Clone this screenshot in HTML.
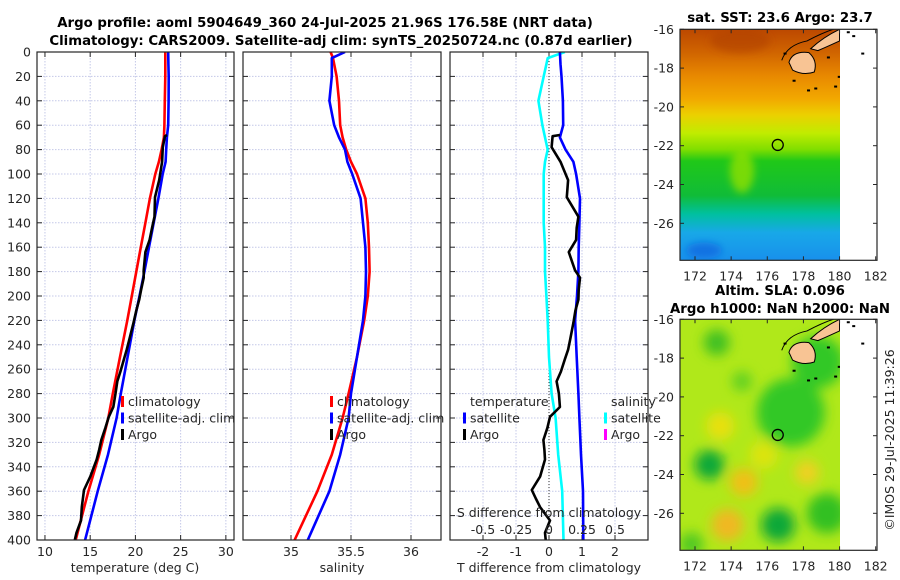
<!DOCTYPE html>
<html><head><meta charset="utf-8">
<style>
body{margin:0;background:#fff;}
svg{display:block;font-family:"DejaVu Sans","Liberation Sans",sans-serif;}
.tk{font-size:12.5px;fill:#262626;}
.ti{font-size:13.3px;font-weight:bold;fill:#000;}
</style></head>
<body>
<svg id="s" width="900" height="580" viewBox="0 0 900 580">
<defs>
<linearGradient id="sstg" x1="0" y1="0" x2="0" y2="1">
<stop offset="0" stop-color="#bc4800"/><stop offset="0.1" stop-color="#d06400"/>
<stop offset="0.2" stop-color="#e88800"/><stop offset="0.3" stop-color="#f2a800"/>
<stop offset="0.37" stop-color="#ecd000"/><stop offset="0.45" stop-color="#c0ec00"/>
<stop offset="0.52" stop-color="#80de00"/><stop offset="0.57" stop-color="#20c818"/>
<stop offset="0.72" stop-color="#10bc38"/><stop offset="0.8" stop-color="#00c0a0"/>
<stop offset="0.88" stop-color="#18a8e8"/><stop offset="1" stop-color="#1890ec"/>
</linearGradient>
<filter id="bl" x="-50%" y="-50%" width="200%" height="200%"><feGaussianBlur stdDeviation="6"/></filter>
<filter id="bl2" x="-50%" y="-50%" width="200%" height="200%"><feGaussianBlur stdDeviation="4"/></filter>
<clipPath id="c1"><rect x="680" y="29" width="160" height="231"/></clipPath>
<clipPath id="c2"><rect x="680" y="319" width="160" height="231"/></clipPath>
<clipPath id="p1"><rect x="37" y="52" width="197" height="488"/></clipPath>
<clipPath id="p2"><rect x="243" y="52" width="198" height="488"/></clipPath>
<clipPath id="p3"><rect x="450" y="52" width="198" height="488"/></clipPath>
</defs>
<text class="ti" x="325" y="27" text-anchor="middle">Argo profile: aoml 5904649_360 24-Jul-2025 21.96S 176.58E (NRT data)</text>
<text class="ti" x="341" y="45" text-anchor="middle">Climatology: CARS2009. Satellite-adj clim: synTS_20250724.nc (0.87d earlier)</text>
<g id="charts"></g>
<g id="maps"></g>
<text class="tk" transform="translate(894,440) rotate(-90)" text-anchor="middle">©IMOS 29-Jul-2025 11:39:26</text>
</svg>
<script>
// ---- data ----
const depthGrid = [0,5,10,20,40,60,70,80,90,100,120,140,160,180,200,220,250,280,300,330,360,400];
const climT = [23.3,23.3,23.3,23.3,23.25,23.2,23.15,22.9,22.6,22.2,21.6,21.1,20.6,20.1,19.6,19.1,18.3,17.5,17.0,16.0,14.8,13.4];
const satTdiff = [0.33,0.34,0.35,0.38,0.42,0.43,0.33,0.5,0.74,0.82,0.94,0.92,0.9,0.89,0.85,0.79,0.84,0.89,0.92,0.97,1.03,1.04];
const climS = [35.33,35.35,35.36,35.38,35.40,35.41,35.43,35.46,35.50,35.55,35.62,35.64,35.65,35.655,35.64,35.61,35.55,35.48,35.43,35.34,35.22,35.03];
const satSdiff = [0.12,-0.01,-0.02,-0.04,-0.08,-0.05,-0.03,-0.01,-0.03,-0.04,-0.04,-0.04,-0.03,-0.03,-0.02,-0.01,0.0,0.02,0.05,0.07,0.10,0.11];
const argoDepth = [68,69,78,90,105,119,135,144,154,164,172,179,185,195,203,212,222,236,244,252,262,270,280,291,299,308,318,326,334,348,359,366,373,384,394,400];
const argoTdiff = [0.33,0.11,0.08,0.35,0.58,0.54,0.89,0.84,0.82,0.6,0.7,0.79,0.94,0.9,0.89,0.8,0.74,0.64,0.58,0.48,0.36,0.23,0.3,0.33,0.03,-0.05,-0.17,-0.14,-0.12,-0.27,-0.52,-0.4,-0.27,0.03,-0.12,-0.1];
const depthTicks = [0,20,40,60,80,100,120,140,160,180,200,220,240,260,280,300,320,340,360,380,400];
const tTicks = [10,15,20,25,30];
const sTicks = [35,35.5,36];
const dTTicks = [-2,-1,0,1,2];
const dSTicks = [-0.5,-0.25,0,0.25,0.5];
const dSLabels = ["-0.5","-0.25","0","0.25","0.5"];

const NS="http://www.w3.org/2000/svg";
const G=document.getElementById('charts');
function mk(tag,attrs,parent){const e=document.createElementNS(NS,tag);for(const k in attrs)e.setAttribute(k,attrs[k]);(parent||G).appendChild(e);return e;}
const Y0=52,Y1=540;
const yD=d=>Y0+(d/400)*(Y1-Y0);
function interp(xs,ys,x){for(let i=0;i<xs.length-1;i++){if(x>=xs[i]&&x<=xs[i+1]){const f=(x-xs[i])/(xs[i+1]-xs[i]);return ys[i]+f*(ys[i+1]-ys[i]);}}return ys[ys.length-1];}
const panels=[{x0:37,x1:234,name:'temperature-panel'},{x0:243,x1:441,name:'salinity-panel'},{x0:450,x1:648,name:'difference-panel'}];
const xT=v=>37+(v-9.12)/(30.9-9.12)*197;
const xS=v=>243+(v-34.6)/(36.25-34.6)*198;
const xDT=v=>549+v*33;
const xDS=v=>549+v*132;
function line(pts,color,w,clip,name){const p=mk('polyline',{points:pts.map(q=>q[0].toFixed(1)+','+q[1].toFixed(1)).join(' '),fill:'none',stroke:color,'stroke-width':w,'stroke-linejoin':'round','clip-path':'url(#'+clip+')'});return p;}
function frame(p,xs,xfun){
  const g=mk('g',{});
  mk('rect',{x:p.x0,y:Y0,width:p.x1-p.x0,height:Y1-Y0,fill:'#fff'},g);
  depthTicks.forEach(d=>{const gl=mk('line',{x1:p.x0,x2:p.x1,y1:yD(d),y2:yD(d),stroke:'#c4c8e8','stroke-width':1,'stroke-dasharray':'1.5,1.5'},g);
    mk('line',{x1:p.x0,x2:p.x0+5,y1:yD(d),y2:yD(d),stroke:'#262626'},g);mk('line',{x1:p.x1-5,x2:p.x1,y1:yD(d),y2:yD(d),stroke:'#262626'},g);});
  xs.forEach(v=>{const x=xfun(v);const gl=mk('line',{x1:x,x2:x,y1:Y0,y2:Y1,stroke:'#c4c8e8','stroke-width':1,'stroke-dasharray':'1.5,1.5'},g);
    mk('line',{x1:x,x2:x,y1:Y1-5,y2:Y1,stroke:'#262626'},g);mk('line',{x1:x,x2:x,y1:Y0,y2:Y0+5,stroke:'#262626'},g);});
  return g;
}
// panel 1
frame(panels[0],tTicks,xT);
depthTicks.forEach(d=>{const t=mk('text',{x:31,y:yD(d)+4.5,'text-anchor':'end',class:'tk'});t.textContent=d;});
tTicks.forEach(v=>{const t=mk('text',{x:xT(v),y:556,'text-anchor':'middle',class:'tk'});t.textContent=v;});
line(depthGrid.map((d,i)=>[xT(climT[i]),yD(d)]),'#ff0000',2.6,'p1','temperature-climatology-line');
line(depthGrid.map((d,i)=>[xT(climT[i]+satTdiff[i]),yD(d)]),'#0000ff',2.6,'p1','temperature-satellite-line');
line(argoDepth.map((d,i)=>[xT(interp(depthGrid,climT,d)+argoTdiff[i]),yD(d)]),'#000000',2.6,'p1','temperature-argo-line');
// panel 2
frame(panels[1],sTicks,xS);
sTicks.forEach(v=>{const t=mk('text',{x:xS(v),y:556,'text-anchor':'middle',class:'tk'});t.textContent=v;});
line(depthGrid.map((d,i)=>[xS(climS[i]),yD(d)]),'#ff0000',2.6,'p2','salinity-climatology-line');
line(depthGrid.map((d,i)=>[xS(climS[i]+satSdiff[i]),yD(d)]),'#0000ff',2.6,'p2','salinity-satellite-line');
// panel 3
frame(panels[2],dTTicks,xDT);
const z=mk('line',{x1:549,x2:549,y1:Y0,y2:Y1,stroke:'#333','stroke-width':1,'stroke-dasharray':'1,2'});
dTTicks.forEach(v=>{const t=mk('text',{x:xDT(v),y:556,'text-anchor':'middle',class:'tk'});t.textContent=v;});
line(depthGrid.map((d,i)=>[xDS(satSdiff[i]),yD(d)]),'#00ffff',2.6,'p3','salinity-diff-satellite-line');
line(depthGrid.map((d,i)=>[xDT(satTdiff[i]),yD(d)]),'#0000ff',2.6,'p3','temperature-diff-satellite-line');
line(argoDepth.map((d,i)=>[xDT(argoTdiff[i]),yD(d)]),'#000000',2.6,'p3','temperature-diff-argo-line');
dSTicks.forEach((v,i)=>{const t=mk('text',{x:xDS(v),y:534,'text-anchor':'middle',class:'tk'});t.textContent=dSLabels[i];});
[[135,'temperature (deg C)','x-axis-title-temperature'],[342,'salinity','x-axis-title-salinity'],[549,'T difference from climatology','x-axis-title-t-diff']].forEach(a=>{const t=mk('text',{x:a[0],y:572,'text-anchor':'middle',class:'tk'});t.textContent=a[1];});
const sdt=mk('text',{x:549,y:517,'text-anchor':'middle',class:'tk'});sdt.textContent='S difference from climatology';
function legend(x,y,items,name){const g=mk('g',{});
  items.forEach((it,i)=>{const yy=y+i*16.5;if(it[1])mk('rect',{x:x,y:yy-10,width:3,height:11,fill:it[1]},g);const t=mk('text',{x:x+(it[1]?7:0),y:yy,class:'tk'},g);t.textContent=it[0];});}
legend(121,406,[['climatology','#ff0000'],['satellite-adj. clim','#0000ff'],['Argo','#000']],'temperature-legend');
legend(330,406,[['climatology','#ff0000'],['satellite-adj. clim','#0000ff'],['Argo','#000']],'salinity-legend');
legend(470,406,[['temperature',null]],'diff-legend-temperature-title');
legend(463,422.5,[['satellite','#0000ff'],['Argo','#000']],'diff-legend-temperature');
legend(611,406,[['salinity',null]],'diff-legend-salinity-title');
legend(604,422.5,[['satellite','#00ffff'],['Argo','#ff00ff']],'diff-legend-salinity');
panels.forEach(p=>mk('rect',{x:p.x0,y:Y0,width:p.x1-p.x0,height:Y1-Y0,fill:'none',stroke:'#262626','stroke-width':1.2}));

// ---- maps ----
const M=document.getElementById('maps');
const lonTicks=[172,174,176,178,180,182];
const latTicks=[-16,-18,-20,-22,-24,-26];
const xL=lon=>695+(lon-172)*18.07;
function drawMap(top,clip,kind,name){
  const yL=lat=>top+(-16-lat)*19.4;
  const g=mk('g',{},M);
  const cg=mk('g',{'clip-path':'url(#'+clip+')'},g);
  if(kind==='sst'){
    mk('rect',{x:680,y:top,width:160,height:231,fill:'url(#sstg)'},cg);
    const b=mk('g',{filter:'url(#bl2)'},cg);
    mk('ellipse',{cx:xL(174.6),cy:yL(-23.3),rx:12,ry:22,fill:'#90e000',opacity:0.8},b);
    mk('ellipse',{cx:xL(172.5),cy:yL(-27.4),rx:18,ry:8,fill:'#1068e0',opacity:0.8},b);
    mk('ellipse',{cx:xL(174.5),cy:yL(-16.6),rx:30,ry:12,fill:'#b04000',opacity:0.6},b);
  } else {
    mk('rect',{x:680,y:top,width:160,height:231,fill:'#b0e81a'},cg);
    const bl=mk('g',{filter:'url(#bl)'},cg);
    [[177.3,-20.8,34,'#30c828'],[178.8,-18.2,26,'#30c828'],[172.8,-23.5,15,'#10a838'],[176.6,-26.6,17,'#10a838'],[179.3,-26,20,'#30c020'],[173.2,-17.2,13,'#40c020'],[174.6,-19.2,10,'#60d020'],[171.8,-27.6,12,'#50c820'],
     [174.7,-24.4,14,'#f0c018'],[173.8,-26.6,16,'#f0b820'],[178.2,-23.9,12,'#f0d020'],[173.4,-21.5,14,'#e8e010'],[175.8,-23,14,'#dce410']].forEach(b=>mk('ellipse',{cx:xL(b[0]),cy:yL(b[1]),rx:b[2],ry:b[2],fill:b[3]},bl));
  }
  const isl=mk('g',{},cg);
  mk('path',{d:`M${xL(177.2)},${yL(-17.7)} Q${xL(177.4)},${yL(-17.1)} ${xL(178.3)},${yL(-17.2)} Q${xL(178.8)},${yL(-17.6)} ${xL(178.6)},${yL(-18.2)} Q${xL(178)},${yL(-18.4)} ${xL(177.4)},${yL(-18.1)} Z`,fill:'#f8c494',stroke:'#000','stroke-width':1},isl);
  mk('path',{d:`M${xL(178.4)},${yL(-17.0)} Q${xL(179.1)},${yL(-16.4)} ${xL(180)},${yL(-16.0)} L${xL(180)},${yL(-16.6)} Q${xL(179.3)},${yL(-16.9)} ${xL(178.8)},${yL(-17.1)} Z`,fill:'#f8c494',stroke:'#000','stroke-width':1},isl);
  mk('path',{d:`M${xL(176.8)},${yL(-17.6)} Q${xL(177.1)},${yL(-16.8)} ${xL(178.2)},${yL(-16.6)} Q${xL(179.2)},${yL(-16.1)} ${xL(180)},${yL(-15.9)}`,fill:'none',stroke:'#000','stroke-width':1},isl);
  [[178.2,-19.1],[178.6,-19.0],[179.7,-18.9],[179.9,-18.4],[177.4,-18.6],[179.3,-17.4],[176.9,-17.2]].forEach(p=>mk('rect',{x:xL(p[0]),y:yL(p[1]),width:3,height:2,fill:'#000'},isl));
  mk('rect',{x:840,y:top,width:37,height:231,fill:'#fff'},g);
  [[180.4,-16.1],[180.7,-16.3],[181.2,-17.2]].forEach(p=>mk('rect',{x:xL(p[0]),y:yL(p[1]),width:3,height:2,fill:'#000'},g));
  const c=mk('ellipse',{cx:xL(176.58),cy:yL(-21.96),rx:5.5,ry:5.5,fill:'none',stroke:'#000','stroke-width':1.3},g);
  mk('rect',{x:680,y:top,width:197,height:231,fill:'none',stroke:'#262626','stroke-width':1.2},g);
  latTicks.forEach(l=>{const y=yL(l);mk('line',{x1:680,x2:684,y1:y,y2:y,stroke:'#262626'},g);mk('line',{x1:873,x2:877,y1:y,y2:y,stroke:'#262626'},g);
    const t=mk('text',{x:674,y:y+4.5,'text-anchor':'end',class:'tk'},g);t.textContent=l;});
  lonTicks.forEach(l=>{const x=xL(l);mk('line',{x1:x,x2:x,y1:top+227,y2:top+231,stroke:'#262626'},g);mk('line',{x1:x,x2:x,y1:top,y2:top+4,stroke:'#262626'},g);
    const t=mk('text',{x:x,y:top+251,'text-anchor':'middle',class:'tk'},g);t.textContent=l;});
}
drawMap(29.3,'c1','sst','sst-map');
drawMap(319.3,'c2','sla','sla-map');
[[780,22,'sat. SST: 23.6 Argo: 23.7','sst-map-title'],[780,295,'Altim. SLA: 0.096','sla-map-title-1'],[780,313,'Argo h1000: NaN h2000: NaN','sla-map-title-2']].forEach(a=>{const t=mk('text',{x:a[0],y:a[1],'text-anchor':'middle',class:'ti'},M);t.textContent=a[2];});
</script>
</body></html>
